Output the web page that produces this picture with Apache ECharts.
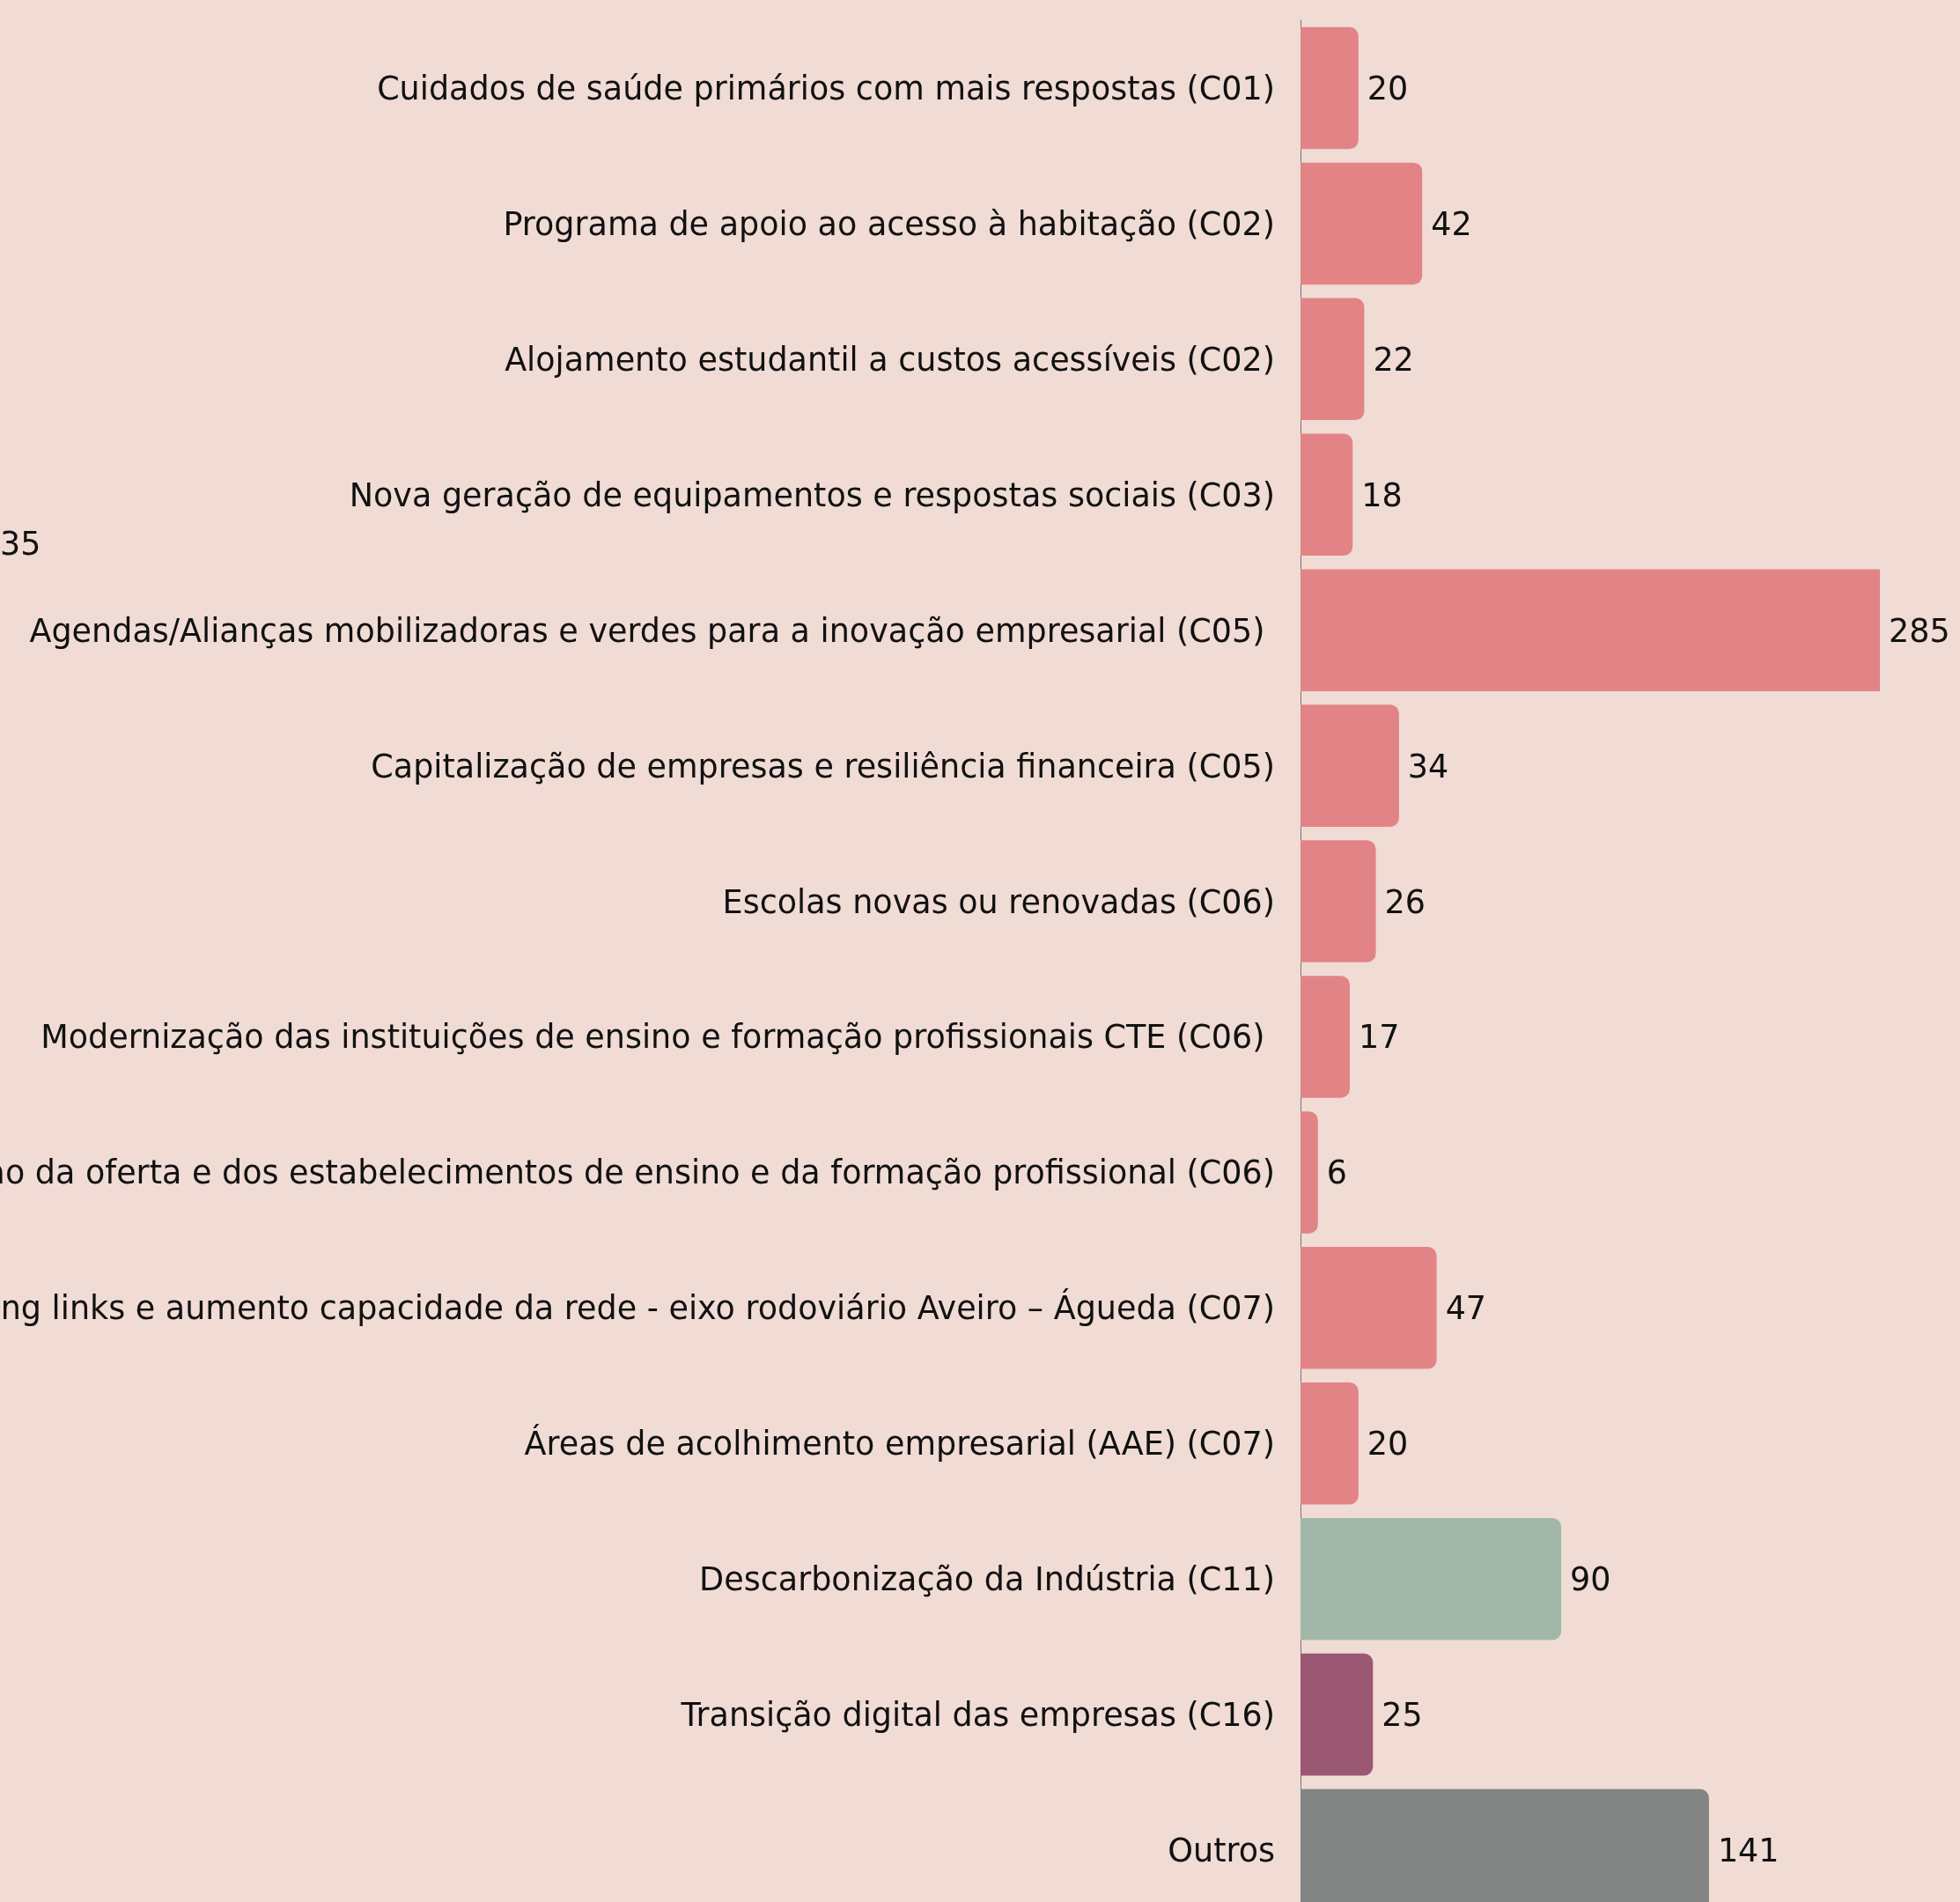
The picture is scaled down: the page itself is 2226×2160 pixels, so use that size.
<!DOCTYPE html>
<html>
<head>
<meta charset="utf-8">
<script src="https://cdn.jsdelivr.net/npm/echarts@6/dist/echarts.min.js"></script>
<style>
  html, body { margin: 0; padding: 0; background: #f0dbd5; }
  #chart { width: 2226px; height: 2160px; }
</style>
</head>
<body>
<div id="chart"></div>
<script>
// categorias (de cima para baixo)
var categories = [
  'Cuidados de saúde primários com mais respostas (C01)',
  'Programa de apoio ao acesso à habitação (C02)',
  'Alojamento estudantil a custos acessíveis (C02)',
  'Nova geração de equipamentos e respostas sociais (C03)',
  'Agendas/Alianças mobilizadoras e verdes para a inovação empresarial (C05) ',
  'Capitalização de empresas e resiliência financeira (C05)',
  'Escolas novas ou renovadas (C06)',
  'Modernização das instituições de ensino e formação profissionais CTE (C06) ',
  'Modernização da oferta e dos estabelecimentos de ensino e da formação profissional (C06)',
  'Missing links e aumento capacidade da rede - eixo rodoviário Aveiro – Águeda (C07)',
  'Áreas de acolhimento empresarial (AAE) (C07)',
  'Descarbonização da Indústria (C11)',
  'Transição digital das empresas (C16)',
  'Outros'
];
// valores
var values = [20, 42, 22, 18, 285, 34, 26, 17, 6, 47, 20, 90, 25, 141];
// grupo de cada barra (define a cor)
var groups = ['social', 'social', 'social', 'social', 'social', 'social', 'social',
  'social', 'social', 'social', 'social', 'clima', 'digital', 'outros'];

var groupColors = {
  social: '#e28385',
  clima: '#a1b8a8',
  digital: '#9b5873',
  outros: '#838584'
};

var FONT = 'DejaVu Sans';

var chart = echarts.init(document.getElementById('chart'));

var seriesData = values.map(function (v, i) {
  var item = {
    value: v,
    itemStyle: { color: groupColors[groups[i]] }
  };
  // barra cortada no limite do eixo
  if (v > 200) {
    item.itemStyle.borderRadius = 0;
  }
  return item;
});

// texto ligeiramente mais abaixo do centro da barra
var richText = {
  t: { fontSize: 36.5, color: '#111', fontFamily: FONT, padding: [7, 0, 0, 0] }
};

chart.setOption({
  backgroundColor: '#f0dbd5',
  animation: false,
  textStyle: { fontFamily: FONT },
  grid: {
    left: 1477,
    right: 91,
    top: 23,
    bottom: -18,
    outerBoundsMode: 'none'
  },
  xAxis: {
    type: 'value',
    min: 0,
    max: 200,
    show: false
  },
  yAxis: {
    type: 'category',
    inverse: true,
    data: categories,
    axisLine: { show: true, lineStyle: { color: '#777', width: 1 } },
    axisTick: { show: false },
    axisLabel: {
      fontSize: 36.5,
      color: '#111',
      margin: 29,
      fontFamily: FONT,
      formatter: function (v) { return '{t|' + v + '}'; },
      rich: richText
    }
  },
  series: [{
    type: 'bar',
    data: seriesData,
    barCategoryGap: '10%',
    clip: true,
    itemStyle: { borderRadius: [0, 10, 10, 0] },
    label: {
      show: true,
      position: 'right',
      distance: 10,
      fontSize: 36.5,
      color: '#111',
      fontFamily: FONT,
      formatter: function (p) { return '{t|' + p.value + '}'; },
      rich: richText
    }
  }],
  graphic: [{
    type: 'text',
    left: 0,
    top: 602,
    style: { text: '35', fontSize: 36.5, fill: '#111', fontFamily: FONT }
  }]
});
</script>
</body>
</html>
